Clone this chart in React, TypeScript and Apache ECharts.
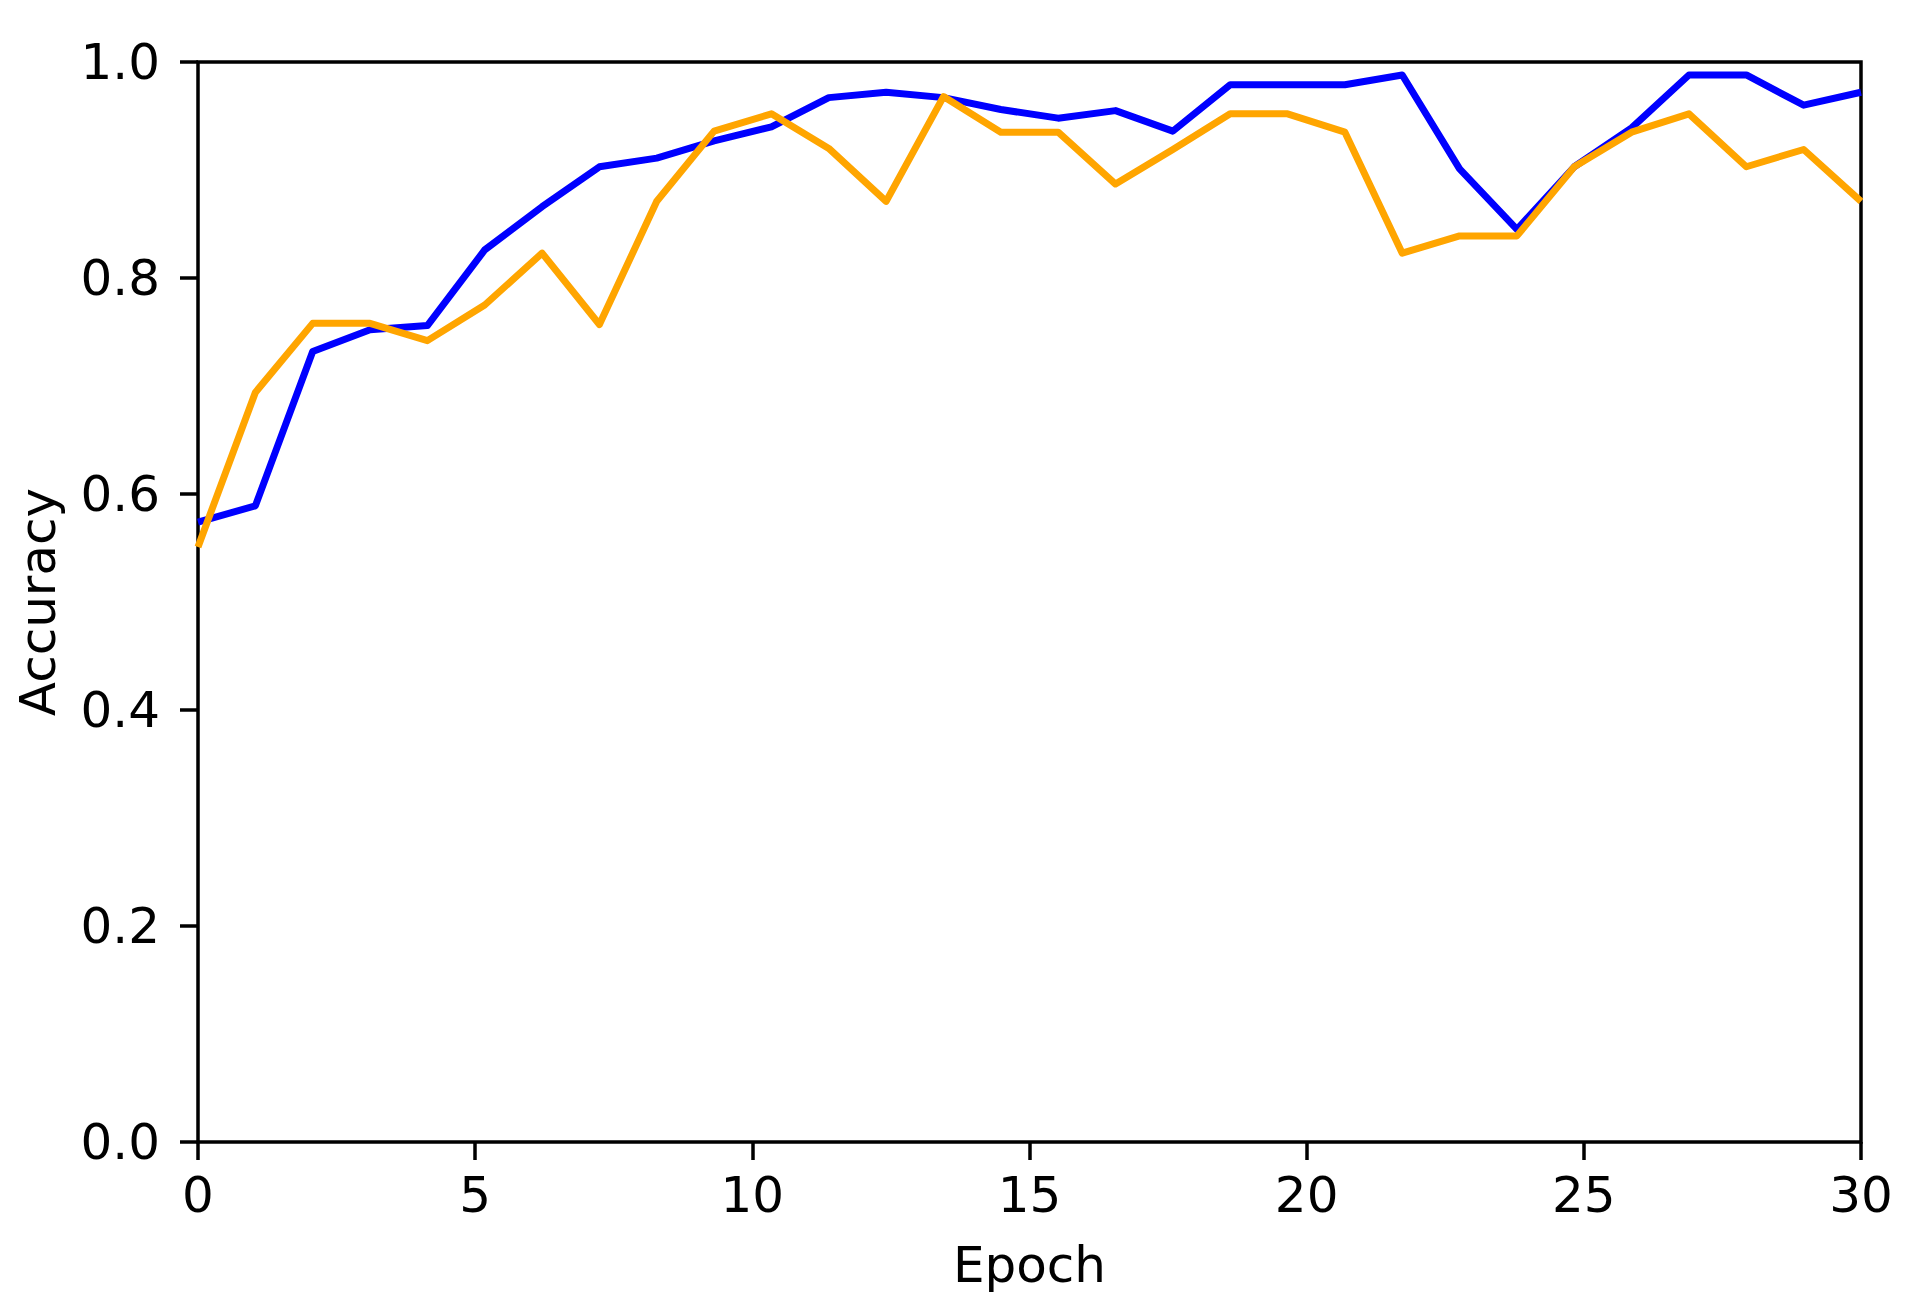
import React, { useEffect, useRef } from 'react';
import * as echarts from 'echarts';

// epochs as plotted (30 points spread evenly over 0..30)
const epochs = [
  '1', '2', '3', '4', '5', '6', '7', '8', '9', '10',
  '11', '12', '13', '14', '15', '16', '17', '18', '19', '20',
  '21', '22', '23', '24', '25', '26', '27', '28', '29', '30'
];

const trainAcc = [
  0.574, 0.589, 0.732, 0.752, 0.756, 0.826, 0.866, 0.903, 0.911, 0.927,
  0.940, 0.967, 0.972, 0.967, 0.956, 0.948, 0.955, 0.936, 0.979, 0.979,
  0.979, 0.988, 0.901, 0.845, 0.903, 0.939, 0.988, 0.988, 0.960, 0.972
];

const valAcc = [
  0.551, 0.694, 0.758, 0.758, 0.742, 0.775, 0.823, 0.757, 0.871, 0.936,
  0.952, 0.920, 0.871, 0.968, 0.935, 0.935, 0.887, 0.919, 0.952, 0.952,
  0.935, 0.823, 0.839, 0.839, 0.903, 0.935, 0.952, 0.903, 0.919, 0.871
];

const xTicks = [0, 5, 10, 15, 20, 25, 30];
const yTicks = [0, 0.2, 0.4, 0.6, 0.8, 1.0];

const FONT = 'DejaVu Sans';

const App: React.FC = () => {
  const chartRef = useRef<HTMLDivElement>(null);

  useEffect(() => {
    if (!chartRef.current) return;
    document.body.style.margin = '0';
    document.body.style.overflow = 'hidden';

    const chart = echarts.init(chartRef.current, undefined, { renderer: 'svg' });

    const tickStyle = { show: true, inside: false, length: 18, lineStyle: { color: '#000', width: 3.5 } };

    const option = {
      animation: false,
      backgroundColor: '#fff',
      grid: {
        left: 198,
        top: 62,
        right: 56,
        bottom: 172,
        show: true,
        borderColor: '#000',
        borderWidth: 3.5,
        backgroundColor: 'transparent'
      },
      xAxis: [
        {
          type: 'value',
          min: xTicks[0],
          max: xTicks[xTicks.length - 1],
          interval: 5,
          name: 'Epoch',
          nameLocation: 'middle',
          nameGap: 98,
          nameTextStyle: { fontFamily: FONT, fontSize: 50, color: '#000' },
          axisLine: { show: false },
          axisTick: tickStyle,
          splitLine: { show: false },
          axisLabel: { fontFamily: FONT, fontSize: 50, color: '#000', margin: 28 }
        },
        {
          type: 'category',
          data: epochs,
          boundaryGap: false,
          show: false
        }
      ],
      yAxis: {
        type: 'value',
        min: yTicks[0],
        max: yTicks[yTicks.length - 1],
        interval: 0.2,
        name: 'Accuracy',
        nameLocation: 'middle',
        nameRotate: 90,
        nameGap: 135,
        nameTextStyle: { fontFamily: FONT, fontSize: 50, color: '#000' },
        axisLine: { show: false },
        axisTick: tickStyle,
        splitLine: { show: false },
        axisLabel: {
          fontFamily: FONT,
          fontSize: 50,
          color: '#000',
          margin: 38,
          formatter: (v: number) => v.toFixed(1)
        }
      },
      series: [
        {
          name: 'train',
          type: 'line',
          xAxisIndex: 1,
          data: trainAcc,
          showSymbol: false,
          symbol: 'none',
          lineStyle: { color: '#0000ff', width: 7, join: 'round', cap: 'butt' }
        },
        {
          name: 'val',
          type: 'line',
          xAxisIndex: 1,
          data: valAcc,
          showSymbol: false,
          symbol: 'none',
          lineStyle: { color: '#ffa500', width: 7, join: 'round', cap: 'butt' }
        }
      ]
    };

    chart.setOption(option);

    return () => {
      chart.dispose();
    };
  }, []);

  return (
    <div
      ref={chartRef}
      style={{ position: 'absolute', left: 0, top: 0, width: 1917, height: 1314 }}
    />
  );
};

export default App;
